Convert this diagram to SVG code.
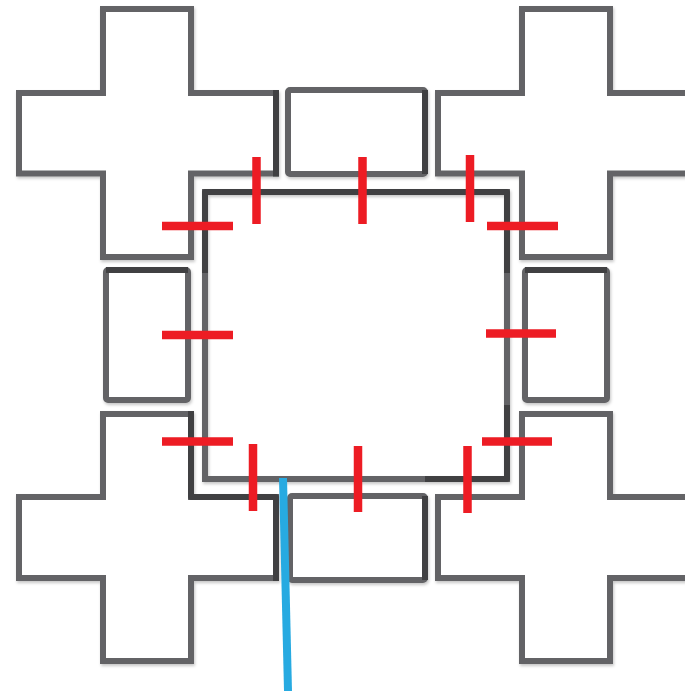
<svg xmlns="http://www.w3.org/2000/svg" width="685" height="691" viewBox="0 0 685 691">
<defs>
<filter id="sh" x="-10%" y="-10%" width="120%" height="120%">
<feDropShadow dx="1" dy="2" stdDeviation="1.5" flood-color="#000" flood-opacity="0.22"/>
</filter>
<style>
.g{fill:#ffffff;stroke:#636466;stroke-width:6;stroke-linejoin:miter}
.d{fill:none;stroke:#414042;stroke-width:6;stroke-linejoin:round;stroke-linecap:butt}
.r{stroke:#ed1c24;stroke-width:8.5;fill:none}
.b{stroke:#27aae1;stroke-width:8;fill:none}
</style>
</defs>
<rect width="685" height="691" fill="#ffffff"/>
<g filter="url(#sh)">
<g id="cross-tl">
<path class="g" d="M103,9 H191 V93 H276 V173.5 H191 V257 H103 V173.5 H19 V93 H103 Z"/>
<path class="d" d="M276,90 V176.5"/>
</g>
<g id="cross-tr">
<path class="g" d="M522,9 H610 V93 H694 V173.5 H610 V257 H522 V173.5 H438 V93 H522 Z"/>
</g>
<g id="cross-bl">
<path class="g" d="M103,414 H191 V497 H276 V578 H191 V661 H103 V578 H19 V497 H103 Z"/>
<path class="d" d="M191,411 V497 H276 V581"/>
</g>
<g id="cross-br">
<path class="g" d="M522,414 H610 V497 H694 V578 H610 V661 H522 V578 H438 V497 H522 Z"/>
</g>
<g id="rect-top">
<rect class="g" x="288" y="90" width="137" height="84" rx="2"/>
<path class="d" d="M425,90 V174"/>
</g>
<g id="rect-left">
<rect class="g" x="106" y="270" width="82" height="130" rx="2"/>
<path class="d" d="M106,270 H188"/>
</g>
<g id="rect-right">
<rect class="g" x="525" y="270" width="82" height="130" rx="2"/>
<path class="d" d="M525,270 H607"/>
</g>
<g id="rect-bottom">
<rect class="g" x="290" y="496" width="135" height="84" rx="2"/>
<path class="d" d="M425,496 V580"/>
</g>
<g id="square-center">
<path class="g" fill="none" d="M205,192 H507 V479 H205 Z" style="fill:none"/>
<path class="d" d="M205,273 V192 H507 V273"/>
<path class="d" d="M507,405 V479 H425"/>
</g>
</g>
<g id="ticks">
<path class="r" d="M162,226 H233 M162,335 H233 M162,441.5 H233 M487,226 H558 M486,333.5 H556 M482,441.5 H552"/>
<path class="r" d="M256.5,157 V224 M362.5,157 V224 M470,155 V222 M253,444 V511 M358,446 V512 M467.5,446 V513"/>
</g>
<g id="connectors">
<path class="b" d="M283,478 L288,691"/>
</g>
</svg>
